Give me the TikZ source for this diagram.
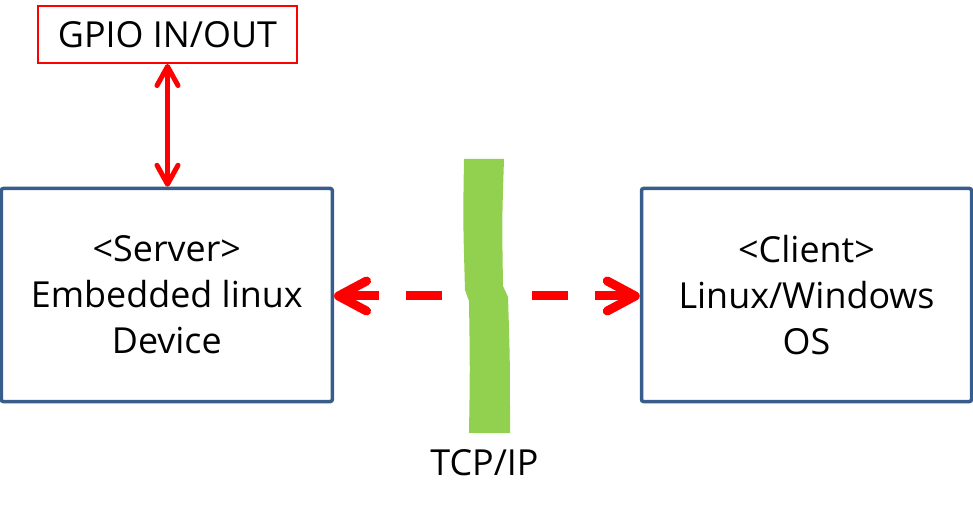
\documentclass[tikz,border=0pt]{standalone}
\usepackage{fontspec}
\setmainfont{Open Sans}
\usetikzlibrary{arrows.meta}
\definecolor{boxblue}{RGB}{56,93,138}
\definecolor{tcpgreen}{RGB}{146,208,80}
\definecolor{arrred}{RGB}{255,0,0}
\begin{document}
\begin{tikzpicture}[x=1bp,y=-1bp,
  bigbox/.style={draw=boxblue, line width=3.5bp, rounded corners=2bp,
    minimum width=331bp, minimum height=213bp, inner sep=0pt, align=center,
    font=\fontsize{36}{46}\selectfont},
  gpiobox/.style={draw=arrred, line width=2bp, minimum width=259bp,
    minimum height=57bp, inner sep=0pt, font=\fontsize{36}{42}\selectfont},
  gpioarrow/.style={draw=arrred, line width=5bp,
    {Straight Barb[length=19bp, width=21bp, round]}-{Straight Barb[length=19bp, width=21bp, round]}},
  netarrow/.style={draw=arrred, line width=9bp, dash pattern=on 36bp off 27bp,
    dash phase=18bp, -{Straight Barb[length=28bp, width=30bp, round]}},
  lbl/.style={font=\fontsize{36}{42}\selectfont, inner sep=0pt}
]
\useasboundingbox (0,0) rectangle (973,509);
\node[bigbox] (server) at (166.8,295) {<Server>\\Embedded linux\\Device};
\node[bigbox, minimum width=330bp] (client) at (806.5,295) {<Client>\\Linux/Windows\\OS};
\node[gpiobox] (gpio) at (167.5,34.5) {GPIO IN/OUT};
\draw[gpioarrow] (gpio.south) -- (gpio.south |- server.north);
\coordinate (mid) at (487,296);
\draw[netarrow] (mid) -- (mid -| server.east);
\draw[netarrow] (mid) -- (mid -| client.west);
\fill[tcpgreen] (464,159) -- (504,159) .. controls (502,220) .. (503,286) -- (508,297)
  .. controls (510,360) .. (510,433)
  -- (469,433) .. controls (470,370) .. (469,301) -- (465,290)
  .. controls (463,220) .. cycle;
\node[lbl, anchor=base] (tcp) at (484.5,475) {TCP/IP};
\end{tikzpicture}
\end{document}
